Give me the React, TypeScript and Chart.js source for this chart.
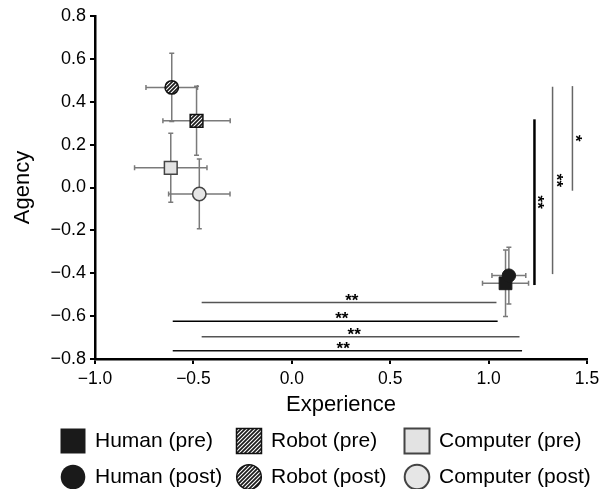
import React, { useEffect, useRef } from 'react';
import { Chart, registerables } from 'chart.js';

Chart.register(...registerables);

// ---- data ----
const seriesNames = ['Human (pre)', 'Human (post)', 'Robot (pre)', 'Robot (post)', 'Computer (pre)', 'Computer (post)'];
const experienceMean = [1.086, 1.103, -0.484, -0.61, -0.615, -0.47];
const agencyMean = [-0.447, -0.411, 0.311, 0.467, 0.092, -0.03];
const experienceErr = [0.117, 0.086, 0.171, 0.131, 0.184, 0.156];
const agencyErr = [0.155, 0.132, 0.161, 0.159, 0.161, 0.163];

const xTickValues = [-1.0, -0.5, 0.0, 0.5, 1.0, 1.5];
const yTickValues = [-0.8, -0.6, -0.4, -0.2, 0.0, 0.2, 0.4, 0.6, 0.8];

// horizontal significance brackets (experience comparisons)
const hSigY = [-0.537, -0.624, -0.696, -0.762];
const hSigFrom = [-0.458, -0.605, -0.458, -0.605];
const hSigTo = [1.04, 1.046, 1.157, 1.17];
const hSigLabelX = [0.305, 0.254, 0.317, 0.261];
const hSigStars = ['**', '**', '**', '**'];

// vertical significance brackets (agency comparisons)
const vSigX = [1.233, 1.325, 1.426];
const vSigFrom = [0.318, 0.47, 0.473];
const vSigTo = [-0.455, -0.404, -0.015];
const vSigStars = ['**', '**', '*'];

// ---- styles ----
const FONT = '"Liberation Sans", Arial, Helvetica, sans-serif';
const hSigColors = ['#555', '#000', '#555', '#111'];
const hSigWidths = [1.5, 1.5, 1.5, 1.5];
const vSigColors = ['#000', '#666', '#666'];
const vSigWidths = [2.5, 1.5, 1.5];

function fmt(v: number): string {
  const s = Math.abs(v).toFixed(1);
  return v < -1e-9 ? '\u2212' + s : s;
}

function makeHatch(ctx: CanvasRenderingContext2D): CanvasPattern | string {
  const c = document.createElement('canvas');
  c.width = 4;
  c.height = 4;
  const g = c.getContext('2d');
  if (!g) return '#555';
  g.fillStyle = '#1c1c1c';
  g.fillRect(0, 0, 4, 4);
  g.strokeStyle = '#ffffff';
  g.lineWidth = 1.1;
  g.beginPath();
  g.moveTo(-1, 5);
  g.lineTo(5, -1);
  g.moveTo(-3, 3);
  g.lineTo(3, -3);
  g.moveTo(1, 7);
  g.lineTo(7, 1);
  g.stroke();
  return ctx.createPattern(c, 'repeat') || '#555';
}

export default function App() {
  const ref = useRef<HTMLCanvasElement | null>(null);

  useEffect(() => {
    const canvas = ref.current;
    if (!canvas) return;
    const ctx0 = canvas.getContext('2d') as CanvasRenderingContext2D;
    const hatch = makeHatch(ctx0);

    const styles = [
      { shape: 'rect', bg: '#1a1a1a', border: '#1a1a1a', bw: 1 },
      { shape: 'circle', bg: '#1a1a1a', border: '#1a1a1a', bw: 1 },
      { shape: 'rect', bg: hatch, border: '#111', bw: 1.5 },
      { shape: 'circle', bg: hatch, border: '#111', bw: 1.5 },
      { shape: 'rect', bg: '#e3e3e3', border: '#444', bw: 1.5 },
      { shape: 'circle', bg: '#e6e6e6', border: '#444', bw: 1.5 },
    ];

    const datasets = seriesNames
      .map((name, i) => ({
        label: name,
        data: [{ x: experienceMean[i], y: agencyMean[i] }],
        pointStyle: styles[i].shape,
        pointRadius: styles[i].shape === 'rect' ? 9 : 6.7,
        pointBackgroundColor: styles[i].bg,
        pointBorderColor: styles[i].border,
        pointBorderWidth: styles[i].bw,
        showLine: false,
      }))
      .reverse();

    const overlay = {
      id: 'overlay',
      beforeDatasetsDraw(chart: any) {
        const ctx = chart.ctx as CanvasRenderingContext2D;
        const xs = chart.scales.x;
        const ys = chart.scales.y;
        ctx.save();
        // error bars
        ctx.strokeStyle = '#7a7a7a';
        ctx.lineWidth = 1.5;
        const cap = 2.5;
        for (let i = 0; i < seriesNames.length; i++) {
          const cx = xs.getPixelForValue(experienceMean[i]);
          const cy = ys.getPixelForValue(agencyMean[i]);
          const x1 = xs.getPixelForValue(experienceMean[i] - experienceErr[i]);
          const x2 = xs.getPixelForValue(experienceMean[i] + experienceErr[i]);
          const y1 = ys.getPixelForValue(agencyMean[i] + agencyErr[i]);
          const y2 = ys.getPixelForValue(agencyMean[i] - agencyErr[i]);
          ctx.beginPath();
          ctx.moveTo(x1, cy);
          ctx.lineTo(x2, cy);
          ctx.moveTo(x1, cy - cap);
          ctx.lineTo(x1, cy + cap);
          ctx.moveTo(x2, cy - cap);
          ctx.lineTo(x2, cy + cap);
          ctx.moveTo(cx, y1);
          ctx.lineTo(cx, y2);
          ctx.moveTo(cx - cap, y1);
          ctx.lineTo(cx + cap, y1);
          ctx.moveTo(cx - cap, y2);
          ctx.lineTo(cx + cap, y2);
          ctx.stroke();
        }
        // significance brackets
        ctx.font = 'bold 17px ' + FONT;
        ctx.textAlign = 'center';
        ctx.textBaseline = 'alphabetic';
        for (let i = 0; i < hSigY.length; i++) {
          const y = ys.getPixelForValue(hSigY[i]);
          ctx.strokeStyle = hSigColors[i];
          ctx.lineWidth = hSigWidths[i];
          ctx.beginPath();
          ctx.moveTo(xs.getPixelForValue(hSigFrom[i]), y);
          ctx.lineTo(xs.getPixelForValue(hSigTo[i]), y);
          ctx.stroke();
          ctx.fillStyle = '#000';
          ctx.fillText(hSigStars[i], xs.getPixelForValue(hSigLabelX[i]), y + 3);
        }
        for (let i = 0; i < vSigX.length; i++) {
          const x = xs.getPixelForValue(vSigX[i]);
          const yA = ys.getPixelForValue(vSigFrom[i]);
          const yB = ys.getPixelForValue(vSigTo[i]);
          ctx.strokeStyle = vSigColors[i];
          ctx.lineWidth = vSigWidths[i];
          ctx.beginPath();
          ctx.moveTo(x, yA);
          ctx.lineTo(x, yB);
          ctx.stroke();
          ctx.save();
          ctx.translate(x - 2, (yA + yB) / 2);
          ctx.rotate(Math.PI / 2);
          ctx.fillStyle = '#000';
          ctx.fillText(vSigStars[i], 0, 0);
          ctx.restore();
        }
        ctx.restore();
      },
      afterDraw(chart: any) {
        const ctx = chart.ctx as CanvasRenderingContext2D;
        ctx.save();
        const colMarkerX = [73, 249, 417];
        const colTextX = [95, 271, 439];
        const rowMarkerY = [441, 477];
        const rowTextY = [441, 477];
        ctx.font = '21px ' + FONT;
        ctx.textAlign = 'left';
        ctx.textBaseline = 'middle';
        for (let i = 0; i < seriesNames.length; i++) {
          const col = Math.floor(i / 2);
          const row = i % 2;
          const st = styles[i];
          const mx = colMarkerX[col];
          const my = rowMarkerY[row];
          ctx.fillStyle = st.bg as any;
          ctx.strokeStyle = st.border;
          ctx.lineWidth = i < 2 ? 0 : i < 4 ? 1.5 : 2;
          ctx.beginPath();
          if (st.shape === 'rect') {
            ctx.rect(mx - 12.5, my - 12.5, 25, 25);
          } else {
            ctx.arc(mx, my, 12.3, 0, Math.PI * 2);
          }
          ctx.fill();
          if (i >= 2) ctx.stroke();
          ctx.fillStyle = '#000';
          ctx.fillText(seriesNames[i], colTextX[col], rowTextY[row]);
        }
        ctx.restore();
      },
    };

    const chart = new Chart(canvas, {
      type: 'scatter',
      data: { datasets: datasets as any },
      options: {
        animation: false,
        responsive: false,
        layout: { padding: { top: 16, right: 12, bottom: 70, left: 0 } },
        plugins: {
          legend: { display: false },
          tooltip: { enabled: false },
        },
        scales: {
          x: {
            type: 'linear',
            min: -1,
            max: 1.5,
            afterBuildTicks: (scale: any) => {
              scale.ticks = xTickValues.map((v) => ({ value: v }));
            },
            afterFit: (scale: any) => {
              scale.height = 60;
              scale.paddingLeft = 0;
              scale.paddingRight = 0;
            },
            ticks: {
              color: '#000',
              font: { family: FONT, size: 17.5 },
              padding: 5,
              maxRotation: 0,
              autoSkip: false,
              callback: (v: any) => fmt(Number(v)),
            },
            grid: {
              drawOnChartArea: false,
              drawTicks: true,
              tickLength: 5,
              color: '#000',
              lineWidth: 2,
            },
            border: { display: true, color: '#000', width: 2.5 },
            title: {
              display: true,
              text: 'Experience',
              color: '#000',
              font: { family: FONT, size: 22 },
              padding: { top: 0, bottom: 1 },
            },
          },
          y: {
            type: 'linear',
            min: -0.8,
            max: 0.8,
            afterBuildTicks: (scale: any) => {
              scale.ticks = yTickValues.map((v) => ({ value: v }));
            },
            afterFit: (scale: any) => {
              scale.width = 95;
              scale.paddingTop = 0;
              scale.paddingBottom = 0;
            },
            ticks: {
              color: '#000',
              font: { family: FONT, size: 18 },
              padding: 4,
              autoSkip: false,
              callback: (v: any) => fmt(Number(v)),
            },
            grid: {
              drawOnChartArea: false,
              drawTicks: true,
              tickLength: 5,
              color: '#000',
              lineWidth: 2,
            },
            border: { display: true, color: '#000', width: 2.5 },
            title: {
              display: true,
              text: 'Agency',
              color: '#000',
              font: { family: FONT, size: 22 },
              padding: { top: 10, bottom: 0 },
            },
          },
        },
      },
      plugins: [overlay],
    } as any);

    return () => chart.destroy();
  }, []);

  return (
    <div style={{ position: 'absolute', left: 0, top: 0, width: 599, height: 489, background: '#fff' }}>
      <canvas ref={ref} width={599} height={489} style={{ display: 'block' }} />
    </div>
  );
}
